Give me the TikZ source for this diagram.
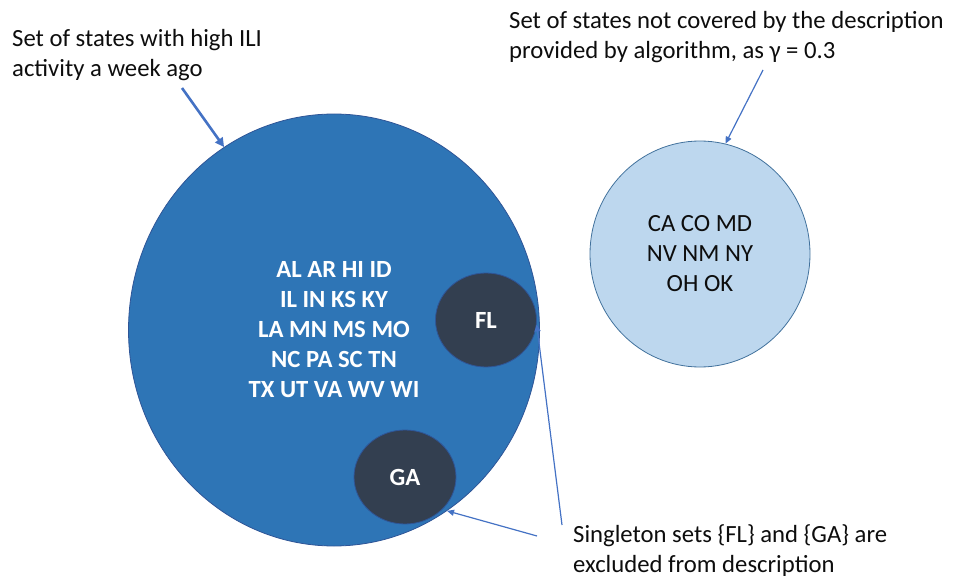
\documentclass[tikz,border=0pt]{standalone}
\usepackage{fontspec}
\setmainfont{Carlito}
\usetikzlibrary{shapes.geometric,arrows.meta}
\definecolor{bigblue}{HTML}{2E75B6}
\definecolor{bigedge}{HTML}{2F5597}
\definecolor{darkset}{HTML}{333F50}
\definecolor{lightset}{HTML}{BDD7EE}
\definecolor{lightedge}{HTML}{41719C}
\definecolor{arrowblue}{HTML}{4472C4}
\definecolor{txt}{HTML}{0D0D0D}
\tikzset{
  setshape/.style={ellipse, inner sep=0pt, line width=0.8pt},
  bigset/.style={setshape, fill=bigblue, draw=bigedge, text=white,
    font=\fontsize{24.7}{30}\selectfont\bfseries, align=center},
  single/.style={setshape, fill=darkset, draw=bigedge, text=white,
    font=\fontsize{24.7}{30}\selectfont\bfseries},
  lightcirc/.style={setshape, fill=lightset, draw=lightedge, text=txt,
    font=\fontsize{24.7}{30}\selectfont, align=center},
  label/.style={inner sep=0pt, text=txt, align=left,
    font=\fontsize{24.7}{30}\selectfont},
  pointer/.style={draw=arrowblue, line width=1.2pt,
    -{Triangle[length=7pt, width=6pt]}},
  thickpointer/.style={draw=arrowblue, line width=2.6pt,
    -{Triangle[length=9pt, width=9pt]}}
}
\begin{document}
\begin{tikzpicture}[x=1pt, y=-1pt]
\useasboundingbox (0,0) rectangle (954,578);
\node[bigset, minimum width=411pt, minimum height=432pt] (big) at (334,330)
  {AL AR HI ID\\IL IN KS KY\\LA MN MS MO\\NC PA SC TN\\TX UT VA WV WI};
\node[single, minimum width=101pt, minimum height=94pt] (fl) at (486,320) {FL};
\node[single, minimum width=102pt, minimum height=94pt] (ga) at (405,477) {GA};
\node[lightcirc, minimum width=220pt, minimum height=226pt] (light) at (700,254)
  {CA CO MD\\NV NM NY\\OH OK};
\node[label, anchor=west] (lab1) at (12,55)
  {Set of states with high ILI\\activity a week ago};
\node[label, anchor=west] (lab2) at (509,37)
  {Set of states not covered by the description\\provided by algorithm, as γ = 0.3};
\node[label, anchor=west] (lab3) at (573,551)
  {Singleton sets \{FL\} and \{GA\} are\\excluded from description};
\coordinate (s1) at (182,88);
\coordinate (s2) at (763,70);
\coordinate (s3) at (562,525);
\coordinate (s4) at (537,536);
\draw[thickpointer] (s1) -- (big.121);
\draw[pointer] (s2) -- (light.77);
\draw[pointer] (s3) -- (fl.355);
\draw[pointer] (s4) -- (big.-58.6);
\end{tikzpicture}
\end{document}
